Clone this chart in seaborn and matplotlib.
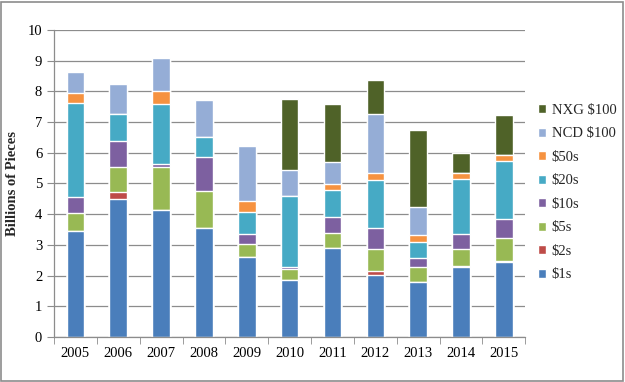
import numpy as np
import pandas as pd
import matplotlib
matplotlib.use('Agg')
import matplotlib.pyplot as plt
from matplotlib.patches import Rectangle
import seaborn as sns

years = ['2005', '2006', '2007', '2008', '2009', '2010', '2011', '2012', '2013', '2014', '2015']
ones = [3.46, 4.49, 4.14, 3.55, 2.61, 1.86, 2.90, 2.01, 1.78, 2.28, 2.43]
twos = [0.00, 0.24, 0.00, 0.00, 0.00, 0.00, 0.00, 0.13, 0.00, 0.04, 0.05]
fives = [0.58, 0.80, 1.39, 1.21, 0.41, 0.36, 0.48, 0.73, 0.49, 0.55, 0.75]
tens = [0.53, 0.86, 0.10, 1.11, 0.33, 0.06, 0.52, 0.67, 0.31, 0.49, 0.61]
twenties = [3.05, 0.88, 1.97, 0.63, 0.73, 2.31, 0.89, 1.57, 0.52, 1.78, 1.89]
fifties = [0.34, 0.00, 0.41, 0.00, 0.34, 0.00, 0.20, 0.23, 0.23, 0.20, 0.19]
ncd_100 = [0.67, 0.97, 1.09, 1.22, 1.80, 0.84, 0.71, 1.93, 0.90, 0.00, 0.00]
nxg_100 = [0.00, 0.00, 0.00, 0.00, 0.00, 2.32, 1.89, 1.10, 2.50, 0.65, 1.31]

series = ['$1s', '$2s', '$5s', '$10s', '$20s', '$50s', 'NCD $100', 'NXG $100']
colors = ['#4A7EBB', '#BE4B48', '#98B954', '#7D60A0', '#46AAC5', '#F69240', '#95ADD6', '#4F6228']

df = pd.DataFrame({'year': years, '$1s': ones, '$2s': twos, '$5s': fives, '$10s': tens,
                   '$20s': twenties, '$50s': fifties, 'NCD $100': ncd_100, 'NXG $100': nxg_100})
# cumulative heights so the stack can be drawn top layer first
cum = df[series].cumsum(axis=1)
cum['year'] = df['year']

sns.set_style('white')
plt.rcParams['font.family'] = 'Liberation Serif'
plt.rcParams['mathtext.default'] = 'regular'

fig = plt.figure(figsize=(6.25, 3.82), dpi=100)
ax = fig.add_axes([0.0864, 0.118, 0.754, 0.8035])

for name, col in reversed(list(zip(series, colors))):
    sns.barplot(data=cum, x='year', y=name, color=col, width=0.41, label=name.replace('$', r'\$'),
                saturation=1, ax=ax, zorder=2)

ax.set_ylim(0, 10)
ax.set_xlim(-0.5, len(years) - 0.5)
ax.set_yticks(range(0, 11))
ax.yaxis.grid(True, color='#8c8c8c', linewidth=0.9, zorder=0)
ax.set_axisbelow(True)
ax.set_xlabel('')
ax.set_ylabel('Billions of Pieces', fontsize=10.5, fontweight='bold', labelpad=6)
ax.tick_params(axis='both', labelsize=10.5, colors='#000000')
ax.tick_params(axis='y', direction='out', length=5, color='#8c8c8c', left=True)
ax.tick_params(axis='x', which='major', length=0, pad=7)
ax.set_xticks(np.arange(-0.5, len(years) + 0.5, 1), minor=True)
ax.tick_params(axis='x', which='minor', direction='out', length=5, color='#8c8c8c', bottom=True)
for s in ['top', 'right']:
    ax.spines[s].set_visible(False)
for s in ['left', 'bottom']:
    ax.spines[s].set_color('#8c8c8c')
    ax.spines[s].set_linewidth(0.9)

ax.legend(loc='center left', bbox_to_anchor=(1.0, 0.47), frameon=False, fontsize=10.5,
          handlelength=0.55, handleheight=0.55, handletextpad=0.35, labelspacing=0.72)

fig.add_artist(Rectangle((0.002, 0.003), 0.995, 0.993, transform=fig.transFigure,
                         fill=False, edgecolor='#8c8c8c', linewidth=1.2))

plt.savefig('out.png', dpi=100)
